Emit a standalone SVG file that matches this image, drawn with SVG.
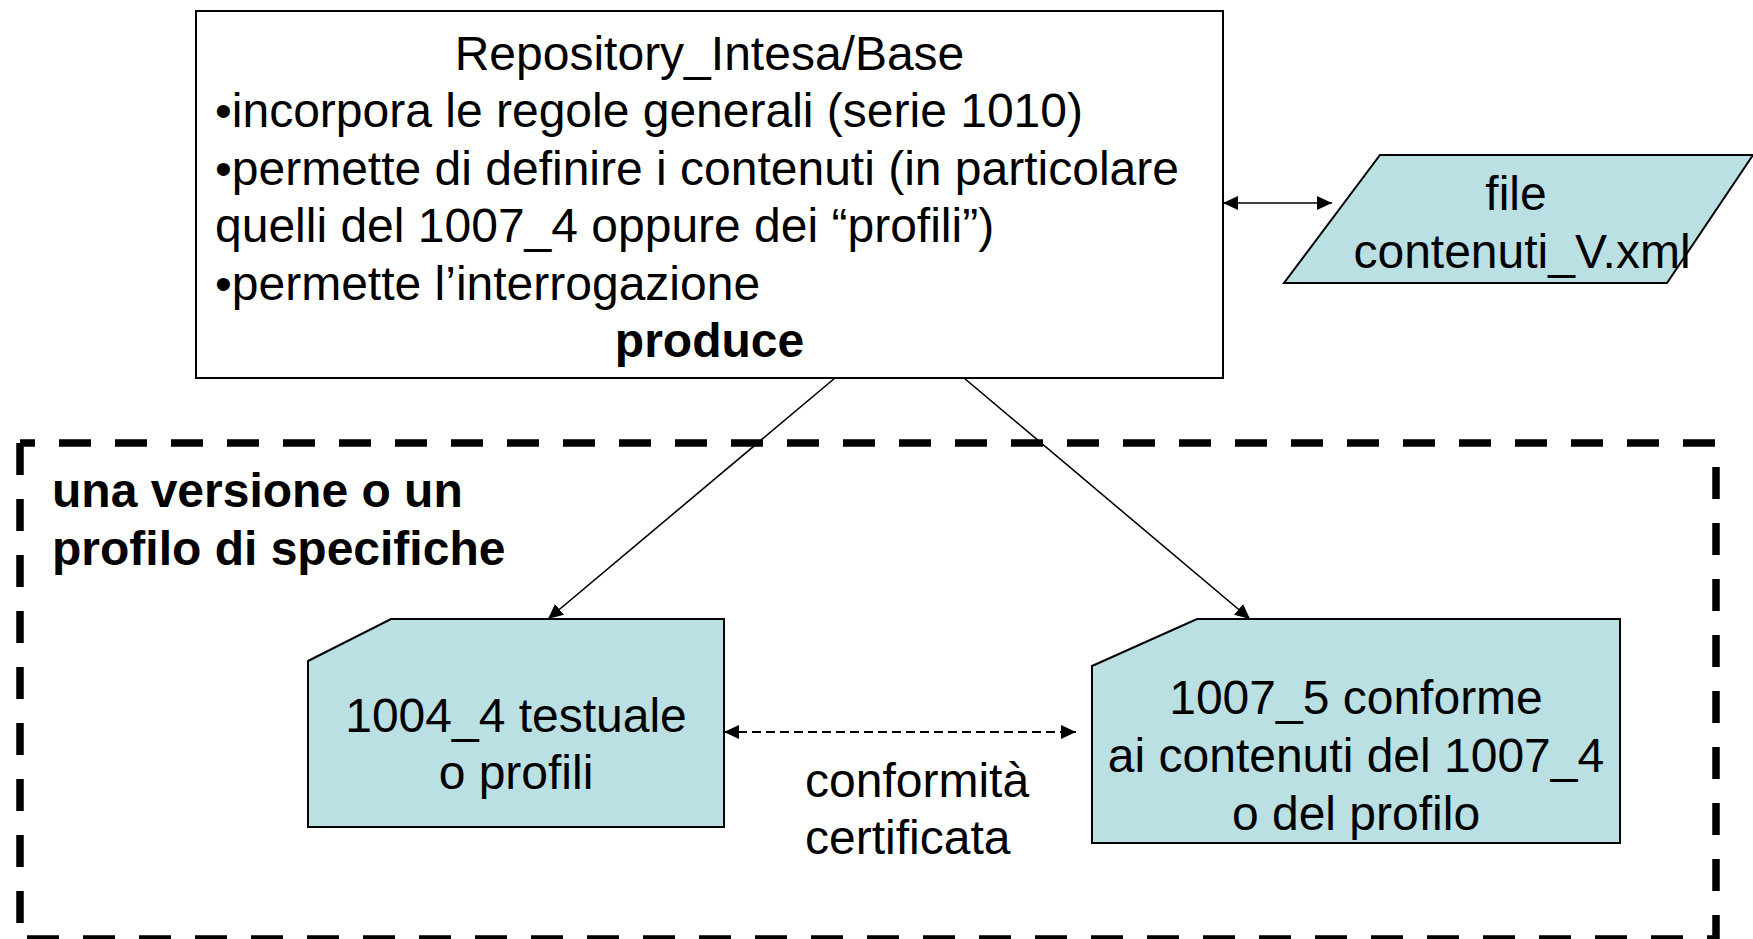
<svg xmlns="http://www.w3.org/2000/svg" width="1753" height="939" viewBox="0 0 1753 939">
<style>
  .t { font-family: "Liberation Sans", Arial, sans-serif; font-size: 48px; fill: #000; }
  .b { font-weight: bold; }
  .c { text-anchor: middle; }
  .shape { fill: #BBE0E3; stroke: #000; stroke-width: 2; }
  .box { fill: #fff; stroke: #000; stroke-width: 2; }
  .frame { stroke: #000; stroke-width: 7.5; stroke-dasharray: 32 24; fill: none; }
  .conn { stroke: #000; stroke-width: 1.6; fill: none; }
  .dash { stroke-dasharray: 9 5; stroke-width: 2; }
</style>
<defs>
  <marker id="ah" viewBox="0 0 15 14" refX="15" refY="7" markerWidth="15" markerHeight="14" markerUnits="userSpaceOnUse" orient="auto-start-reverse">
    <path d="M0,0 L15,7 L0,14 z" fill="#000"/>
  </marker>
</defs>
<rect width="1753" height="939" fill="#fff"/>

<g id="group-frame">
  <line class="frame" x1="20" y1="443" x2="1716" y2="443" stroke-dashoffset="17"/>
  <line class="frame" x1="20" y1="443" x2="20" y2="939" stroke-dashoffset="0"/>
  <line class="frame" x1="1716" y1="443" x2="1716" y2="939" stroke-dashoffset="32"/>
  <line class="frame" x1="20" y1="939" x2="1716" y2="939" stroke-dashoffset="49"/>
  <text class="t b" x="52" y="507">una versione o un</text>
  <text class="t b" x="52" y="565">profilo di specifiche</text>
</g>

<g id="connectors">
  <line class="conn" x1="835" y1="378" x2="548" y2="619" marker-end="url(#ah)"/>
  <line class="conn" x1="964" y1="378" x2="1250" y2="619" marker-end="url(#ah)"/>
  <line class="conn" x1="1223" y1="203" x2="1332" y2="203" marker-start="url(#ah)" marker-end="url(#ah)"/>
  <line class="conn dash" x1="724" y1="732" x2="1076" y2="732" marker-start="url(#ah)" marker-end="url(#ah)"/>
  <text class="t" x="805" y="797">conformità</text>
  <text class="t" x="805" y="854">certificata</text>
</g>

<g id="node-repository">
  <rect class="box" x="196" y="11" width="1027" height="367"/>
  <text class="t c" x="709.5" y="70">Repository_Intesa/Base</text>
  <text class="t" x="215" y="127">•incorpora le regole generali (serie 1010)</text>
  <text class="t" x="215" y="185">•permette di definire i contenuti (in particolare</text>
  <text class="t" x="215" y="242">quelli del 1007_4 oppure dei “profili”)</text>
  <text class="t" x="215" y="300">•permette l’interrogazione</text>
  <text class="t b c" x="709.5" y="357">produce</text>
</g>

<g id="node-file">
  <polygon class="shape" points="1380,155 1753,155 1667,283 1284,283"/>
  <text class="t c" x="1516" y="210">file</text>
  <text class="t c" x="1522" y="268">contenuti_V.xml</text>
</g>

<g id="node-1004">
  <polygon class="shape" points="308,661 391,619 724,619 724,827 308,827"/>
  <text class="t c" x="516" y="732">1004_4 testuale</text>
  <text class="t c" x="516" y="789">o profili</text>
</g>

<g id="node-1007">
  <polygon class="shape" points="1092,666 1197,619 1620,619 1620,843 1092,843"/>
  <text class="t c" x="1356" y="714">1007_5 conforme</text>
  <text class="t c" x="1356" y="772">ai contenuti del 1007_4</text>
  <text class="t c" x="1356" y="830">o del profilo</text>
</g>
</svg>
